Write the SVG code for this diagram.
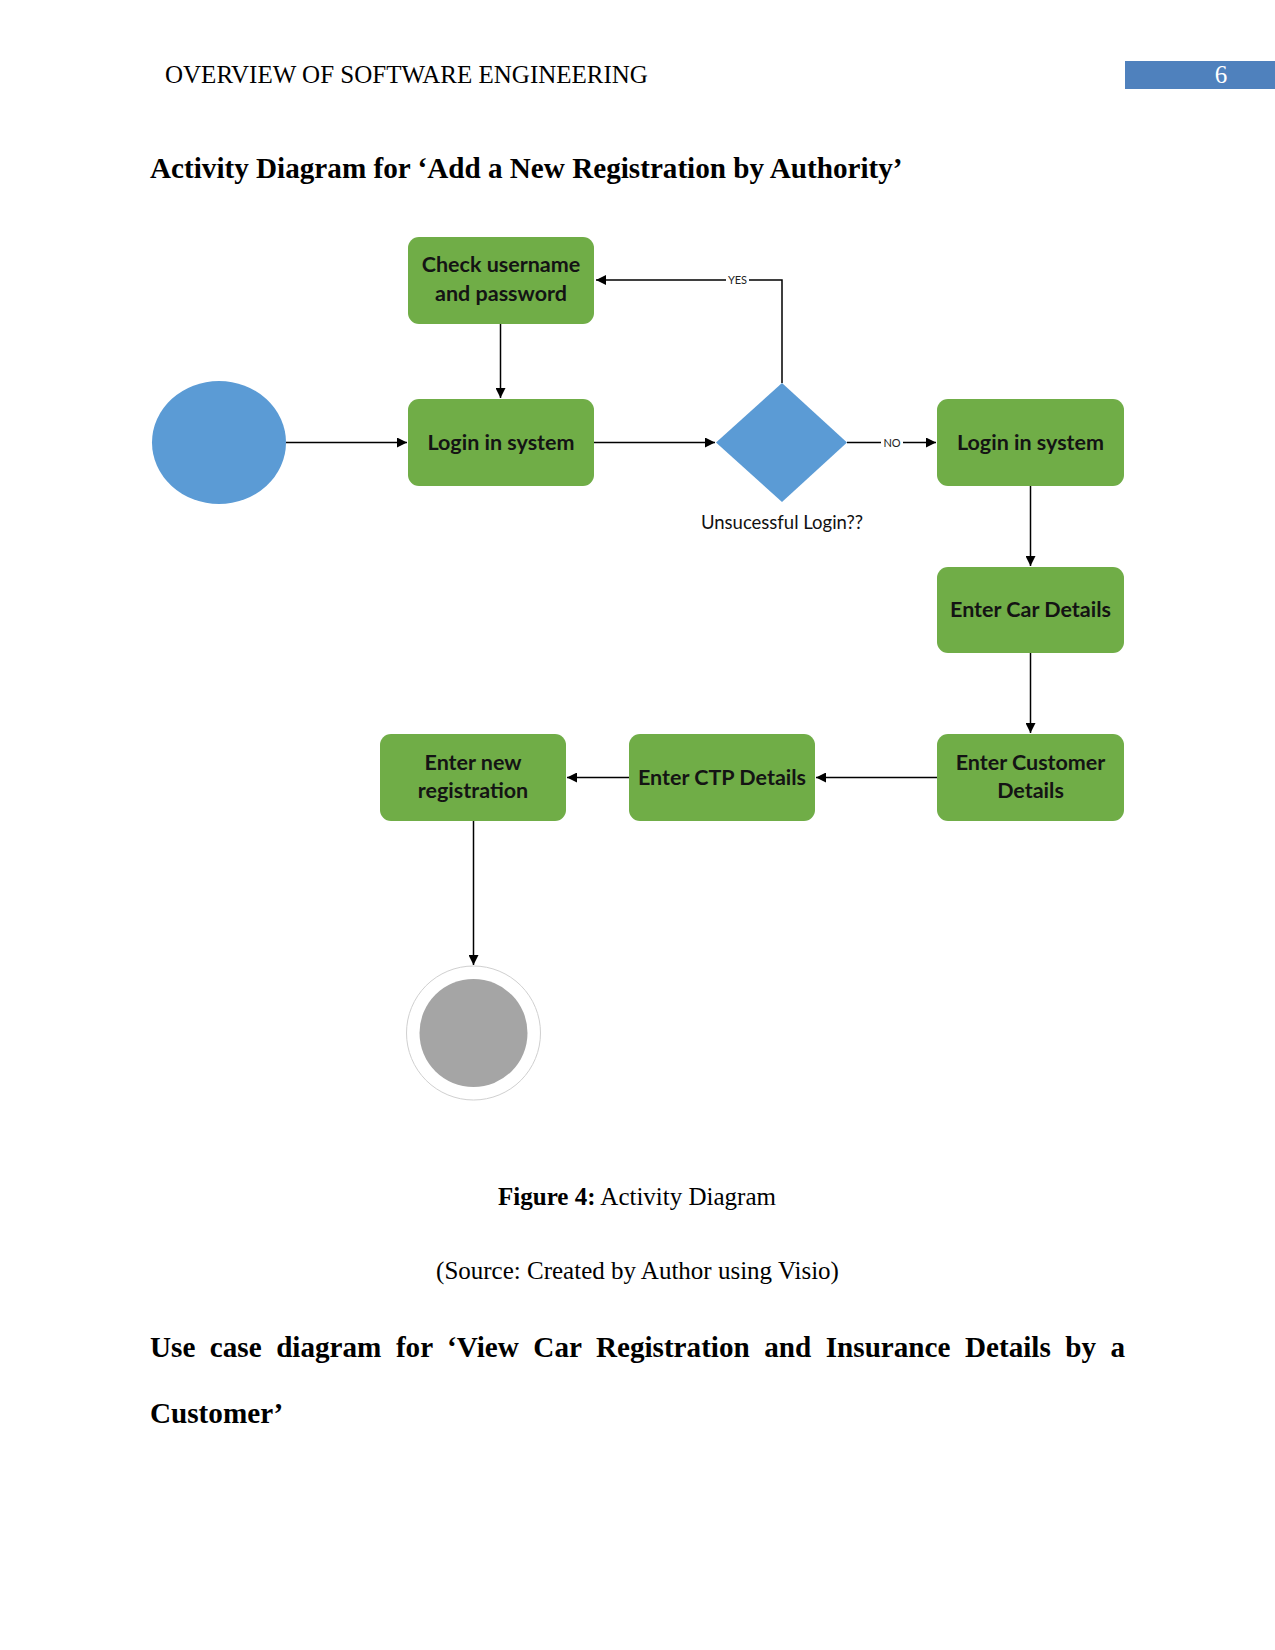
<svg xmlns="http://www.w3.org/2000/svg" width="1275" height="1650" viewBox="0 0 1275 1650">
<defs>
<style>
.serif{font-family:"Liberation Serif","Times New Roman",serif;font-size:25px;fill:#000}
.h14{font-size:29.17px}
.b{font-weight:bold}
.box{fill:#70AD47}
.bt{font-family:Lato,"Open Sans",sans-serif;font-weight:bold;font-size:21.5px;fill:#141414;text-anchor:middle}
.edge{stroke:#000;stroke-width:1.5;fill:none}
.lbl{font-family:Lato,"Open Sans",sans-serif;font-size:11px;fill:#222;text-anchor:middle}
</style>
<marker id="ah" viewBox="0 0 10 10" refX="10" refY="5" markerWidth="11" markerHeight="10" markerUnits="userSpaceOnUse" orient="auto">
<path d="M0,0 L10,5 L0,10 z" fill="#000"/>
</marker>
</defs>
<rect width="1275" height="1650" fill="#fff"/>

<g id="page-text">
<text class="serif" x="165" y="83">OVERVIEW OF SOFTWARE ENGINEERING</text>
<rect x="1125" y="61" width="150" height="28" fill="#4F81BD"/>
<text class="serif" x="1221" y="83" style="fill:#fff" text-anchor="middle">6</text>
<text class="serif h14 b" x="150" y="178">Activity Diagram for ‘Add a New Registration by Authority’</text>
<text class="serif" x="637" y="1205" text-anchor="middle"><tspan class="b">Figure 4:</tspan> Activity Diagram</text>
<text class="serif" x="637.5" y="1279" text-anchor="middle">(Source: Created by Author using Visio)</text>
<text class="serif h14 b" x="150" y="1357" word-spacing="7.2">Use case diagram for ‘View Car Registration and Insurance Details by a</text>
<text class="serif h14 b" x="150" y="1423">Customer’</text>
</g>

<g id="connectors">
<line class="edge" x1="286" y1="442.5" x2="407" y2="442.5" marker-end="url(#ah)"/>
<line class="edge" x1="500.5" y1="324" x2="500.5" y2="398" marker-end="url(#ah)"/>
<line class="edge" x1="594" y1="442.5" x2="715" y2="442.5" marker-end="url(#ah)"/>
<polyline class="edge" points="782,383 782,280 596,280" marker-end="url(#ah)"/>
<rect x="726" y="273" width="23" height="14" fill="#fff"/>
<text class="lbl" x="737.5" y="284">YES</text>
<line class="edge" x1="847" y1="442.5" x2="936" y2="442.5" marker-end="url(#ah)"/>
<rect x="881" y="435" width="22" height="14" fill="#fff"/>
<text class="lbl" x="892" y="446.5">NO</text>
<line class="edge" x1="1030.5" y1="486" x2="1030.5" y2="566" marker-end="url(#ah)"/>
<line class="edge" x1="1030.5" y1="653" x2="1030.5" y2="733" marker-end="url(#ah)"/>
<line class="edge" x1="937" y1="777.5" x2="816" y2="777.5" marker-end="url(#ah)"/>
<line class="edge" x1="629" y1="777.5" x2="567" y2="777.5" marker-end="url(#ah)"/>
<line class="edge" x1="473.5" y1="821" x2="473.5" y2="965" marker-end="url(#ah)"/>
</g>

<g id="start">
<ellipse cx="219" cy="442.5" rx="67" ry="61.5" fill="#5B9BD5"/>
</g>

<g id="check-credentials">
<rect class="box" x="408" y="237" width="186" height="87" rx="11"/>
<text class="bt" x="501" y="272">Check username</text>
<text class="bt" x="501" y="301">and password</text>
</g>

<g id="login-1">
<rect class="box" x="408" y="399" width="186" height="87" rx="11"/>
<text class="bt" x="501" y="450">Login in system</text>
</g>

<g id="decision">
<polygon points="782,383 847,442.5 782,502 716,442.5" fill="#5B9BD5"/>
<text x="782" y="529" text-anchor="middle" style="font-family:Lato,'Open Sans',sans-serif;font-size:18.5px;fill:#111">Unsucessful Login??</text>
</g>

<g id="login-2">
<rect class="box" x="937" y="399" width="187" height="87" rx="11"/>
<text class="bt" x="1030.5" y="450">Login in system</text>
</g>

<g id="car-details">
<rect class="box" x="937" y="567" width="187" height="86" rx="11"/>
<text class="bt" x="1030.5" y="617">Enter Car Details</text>
</g>

<g id="customer-details">
<rect class="box" x="937" y="734" width="187" height="87" rx="11"/>
<text class="bt" x="1030.5" y="770">Enter Customer</text>
<text class="bt" x="1030.5" y="798">Details</text>
</g>

<g id="ctp-details">
<rect class="box" x="629" y="734" width="186" height="87" rx="11"/>
<text class="bt" x="722" y="785">Enter CTP Details</text>
</g>

<g id="new-registration">
<rect class="box" x="380" y="734" width="186" height="87" rx="11"/>
<text class="bt" x="473" y="770">Enter new</text>
<text class="bt" x="473" y="798">registration</text>
</g>

<g id="end">
<circle cx="473.5" cy="1033" r="67" fill="#fff" stroke="#d0d0d0" stroke-width="1"/>
<circle cx="473.5" cy="1033" r="54" fill="#A5A5A5"/>
</g>
</svg>
